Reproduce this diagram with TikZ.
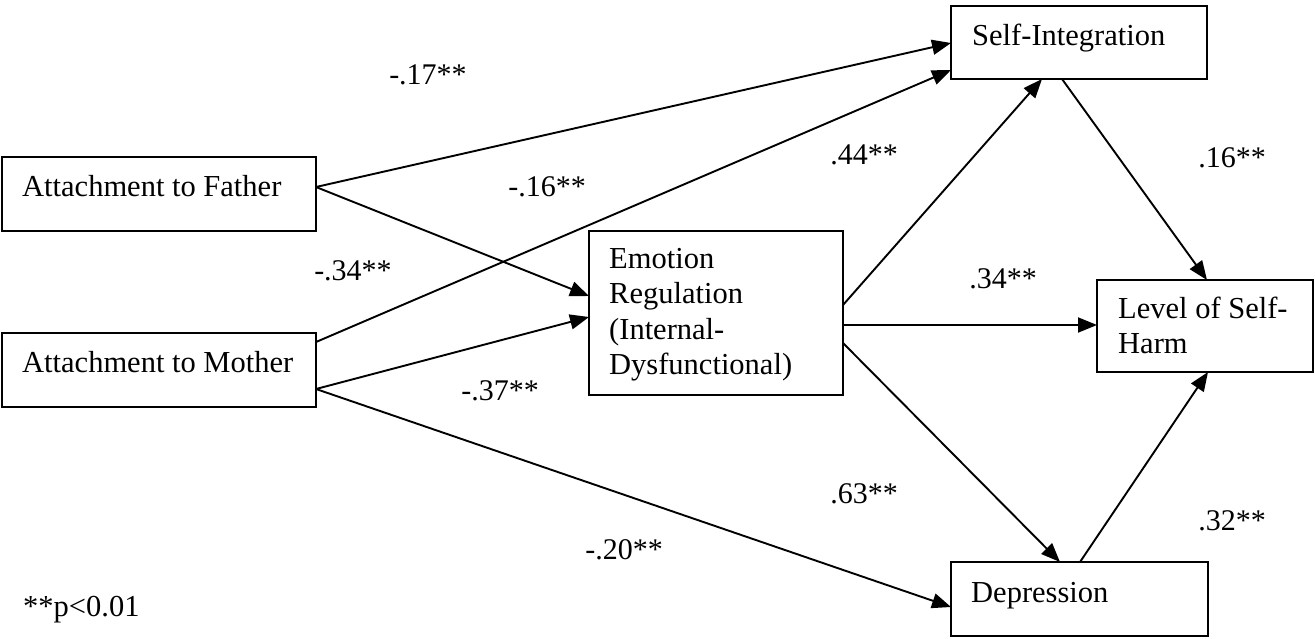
\documentclass[tikz,border=0pt]{standalone}
\usepackage{fontspec}
\setmainfont{Liberation Serif}
\usetikzlibrary{arrows.meta,calc}
\begin{document}
\begin{tikzpicture}[x=1pt,y=-1pt,
  box/.style={draw,line width=1.9pt,rectangle,inner sep=0pt,outer sep=0pt},
  txt/.style={anchor=base west,inner sep=0pt,font=\fontsize{30.5}{35.5}\selectfont},
  lab/.style={anchor=base,inner sep=0pt,font=\fontsize{30}{35}\selectfont},
  arr/.style={line width=1.9pt,-{Triangle[length=19pt,width=15pt]}}]
\useasboundingbox (0,0) rectangle (1315,638);
% boxes
\node[box,minimum width=314pt,minimum height=74pt] (fa) at (159,194) {};
\node[box,minimum width=314pt,minimum height=74pt] (mo) at (159,370) {};
\node[box,minimum width=254pt,minimum height=164pt] (er) at (716,313) {};
\node[box,minimum width=256pt,minimum height=73pt] (si) at (1079,42.5) {};
\node[box,minimum width=216pt,minimum height=92pt] (lv) at (1205,326) {};
\node[box,minimum width=257pt,minimum height=74pt] (de) at (1079.5,599) {};
% texts
\node[txt] (tfa) at (22,196) {Attachment to Father};
\node[txt] (tmo) at (22,372) {Attachment to Mother};
\node[txt] (ter1) at (609,268) {Emotion};
\node[txt] (ter2) at (609,303.5) {Regulation};
\node[txt] (ter3) at (609,339) {(Internal-};
\node[txt] (ter4) at (609,374.5) {Dysfunctional)};
\node[txt] (tsi) at (972,45) {Self-Integration};
\node[txt] (tlv1) at (1118,318) {Level of Self-};
\node[txt] (tlv2) at (1118,353) {Harm};
\node[txt] (tde) at (971,602) {Depression};
% connectors
\draw[arr] ($(fa.east)+(0,-7)$) -- ($(si.west)+(0,0.5)$);
\draw[arr] ($(fa.east)+(0,-7)$) -- ($(er.west)+(0,-17)$);
\draw[arr] ($(mo.east)+(0,-28)$) -- ($(si.west)+(0,27.5)$);
\draw[arr] ($(mo.east)+(0,19)$) -- ($(er.west)+(0,4)$);
\draw[arr] ($(mo.east)+(0,19)$) -- ($(de.west)+(0,8)$);
\draw[arr] ($(er.east)+(0,-8)$) -- ($(si.south)+(-37,0)$);
\draw[arr] ($(er.east)+(0,12)$) -- ($(lv.west)+(0,-1)$);
\draw[arr] ($(er.east)+(0,30)$) -- ($(de.north)+(-19.5,0)$);
\draw[arr] ($(si.south)+(-17,0)$) -- ($(lv.north)+(2,0)$);
\draw[arr] ($(de.north)+(0.5,0)$) -- ($(lv.south)+(3,0)$);
% labels
\node[lab] (l1) at (428,84) {-.17**};
\node[lab] (l2) at (547,196) {-.16**};
\node[lab] (l3) at (864,164) {.44**};
\node[lab] (l4) at (1232,167) {.16**};
\node[lab] (l5) at (353,280) {-.34**};
\node[lab] (l6) at (1003,288) {.34**};
\node[lab] (l7) at (500,400) {-.37**};
\node[lab] (l8) at (864,503) {.63**};
\node[lab] (l9) at (1232,530) {.32**};
\node[lab] (l10) at (624,559) {-.20**};
\node[txt] (note) at (23,616) {**p<0.01};
\end{tikzpicture}
\end{document}
